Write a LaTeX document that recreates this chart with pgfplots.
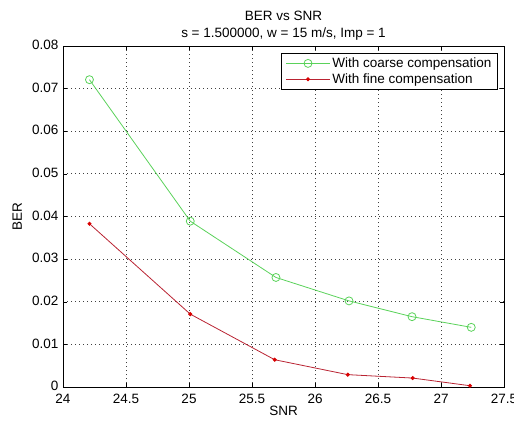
\documentclass[border=0pt]{standalone}
\usepackage{fontspec}
\setmainfont{Liberation Sans}
\usepackage{pgfplots}
\pgfplotsset{compat=1.18}
\definecolor{mgreen}{RGB}{90,210,90}
\definecolor{mred}{RGB}{185,35,50}
\begin{document}
\fontsize{13.5bp}{16bp}\selectfont
\begin{tikzpicture}[x=1bp,y=1bp]
\useasboundingbox (0,0) rectangle (514,423);
\begin{axis}[
  at={(63bp,36bp)}, anchor=south west,
  scale only axis, width=441bp, height=341bp,
  xmin=24, xmax=27.5, ymin=0, ymax=0.08,
  xtick={24,24.5,...,27.5},
  ytick={0,0.01,...,0.08},
  scaled y ticks=false,
  scaled x ticks=false,
  tick label style={font=\fontsize{13.5bp}{16bp}\selectfont},
  xticklabel style={yshift=-2bp, /pgf/number format/.cd, fixed, precision=1},
  yticklabel style={yshift=1bp, /pgf/number format/.cd, fixed, precision=2},
  /pgf/number format/assume math mode=true,
  tick align=inside,
  tick style={black, thin},
  major tick length=4bp,
  grid=major,
  grid style={black!75, line width=0.8pt, dash pattern=on 0.8bp off 3.2bp},
  axis line style={black, line width=0.7pt},
  xlabel={SNR}, ylabel={BER},
  label style={font=\fontsize{13.5bp}{16bp}\selectfont},
  xlabel style={yshift=6bp},
  ylabel style={yshift=1bp},
  title={BER vs SNR\\s = 1.500000, w = 15 m/s, Imp = 1},
  title style={align=center, yshift=-5bp, font=\fontsize{13.5bp}{17bp}\selectfont},
  legend style={at={(0.986,0.979)}, anchor=north east, draw=black, line width=0.7pt,
    font=\fontsize{13.5bp}{15bp}\selectfont, row sep=0bp, inner xsep=4bp, inner ysep=2bp},
  legend cell align=left,
  legend image code/.code={
    \draw[mark repeat=2,mark phase=2,#1] plot coordinates {(0bp,0bp) (22bp,0bp) (44bp,0bp)};},
]
\addplot[mgreen, line width=0.8bp, mark=o, mark size=4bp, mark options={solid}] coordinates {
 (24.21,0.0721) (25.01,0.0389) (25.69,0.0257) (26.27,0.0202) (26.77,0.0165) (27.24,0.0140)};
\addlegendentry{With coarse compensation}
\addplot[mred, line width=0.8bp, mark=*, mark size=1.6bp, mark options={fill=red!85!black, draw=red!85!black}] coordinates {
 (24.21,0.0383) (25.01,0.0171) (25.68,0.0064) (26.26,0.0029) (26.775,0.0021) (27.23,0.0003)};
\addlegendentry{With fine compensation}
\end{axis}
\end{tikzpicture}
\end{document}
